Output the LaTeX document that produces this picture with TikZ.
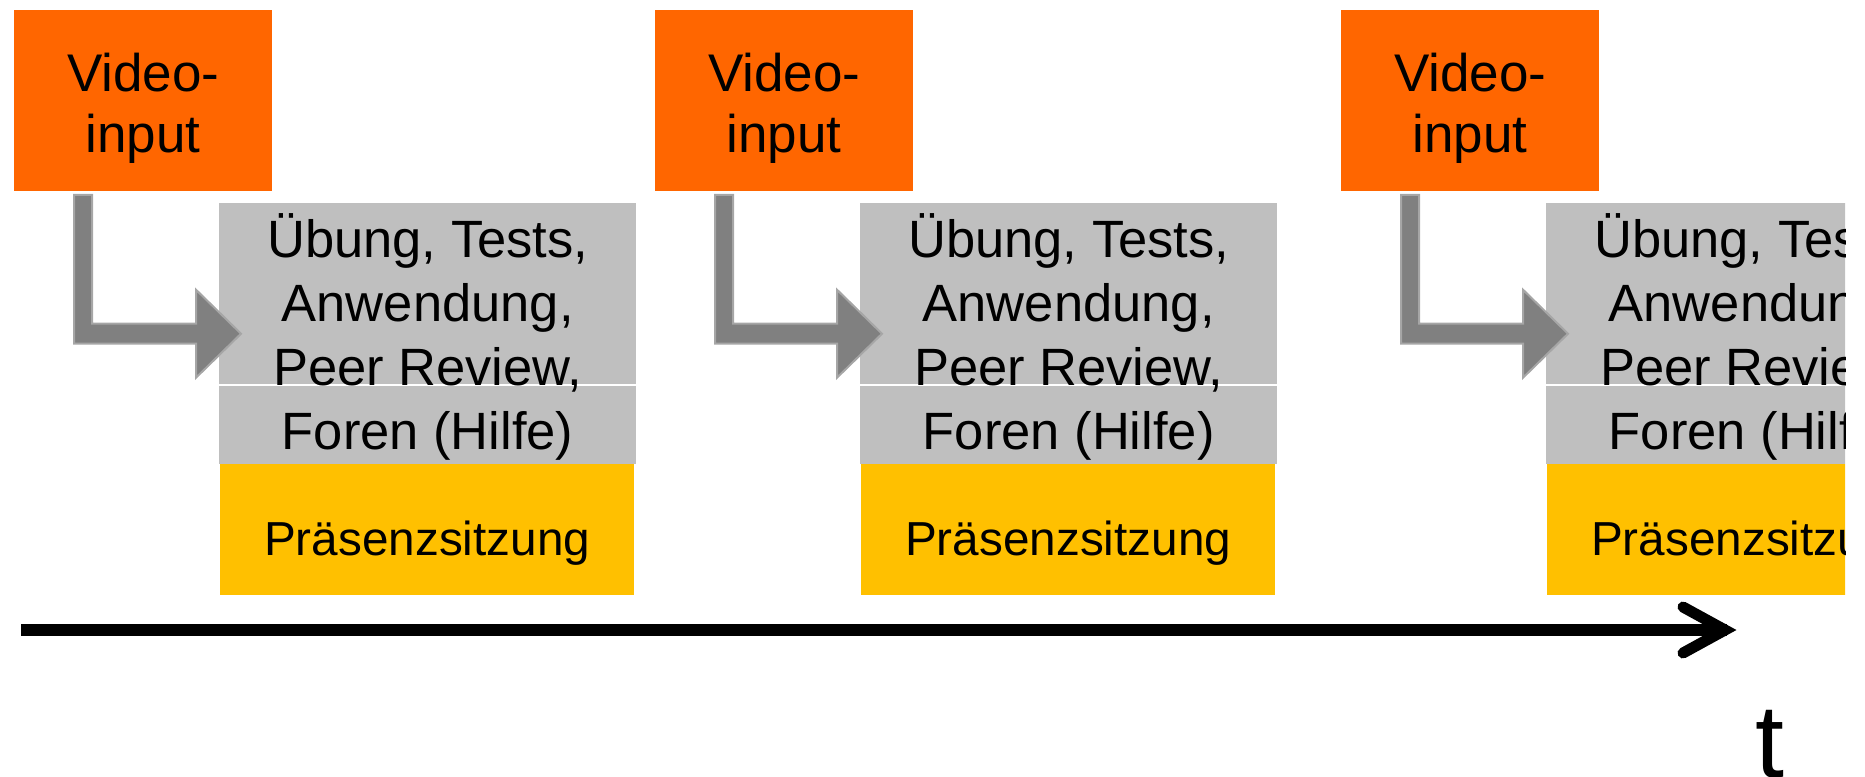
\documentclass[tikz,border=0pt]{standalone}
\usepackage{fontspec}
\setmainfont{Liberation Sans}
\usetikzlibrary{calc}
\definecolor{vorange}{HTML}{FF6600}
\definecolor{vgray}{HTML}{BFBFBF}
\definecolor{vyellow}{HTML}{FFC000}
\definecolor{agray}{HTML}{808080}
\definecolor{agrayline}{HTML}{A6A6A6}
\tikzset{
  videobox/.style={fill=vorange, minimum width=258pt, minimum height=181pt, inner sep=0pt, anchor=north west},
  videotext/.style={align=center, inner sep=0pt, font=\fontsize{53}{61}\selectfont},
  taskbox/.style={fill=vgray, minimum width=417pt, minimum height=261pt, inner sep=0pt, anchor=north west},
  tasktext/.style={align=center, inner sep=0pt, font=\fontsize{52.5}{64}\selectfont},
  meetbox/.style={fill=vyellow, minimum width=414pt, minimum height=131pt, inner sep=0pt, anchor=north west},
  meettext/.style={inner sep=0pt, anchor=base, font=\fontsize{47.7}{57}\selectfont},
  divider/.style={white, line width=1.5pt},
  flowarrow/.style={fill=agray, draw=agrayline, line width=2pt, line join=miter},
  timeline/.style={line width=12pt},
  timehead/.style={line width=11pt, line cap=round, line join=miter},
}
\begin{document}
\begin{tikzpicture}[x=1pt,y=-1pt]
\useasboundingbox (0,0) rectangle (1865,776);
\begin{scope}
\clip (0,0) rectangle (1845,776);
\foreach \i/\X in {1/219, 2/860, 3/1546} {
  \node[videobox] (v\i) at (\X-205, 9.5) {};
  \node[videotext] (vt\i) at ($(v\i.center)+(0,8)$) {Video-\\input};
  \node[taskbox] (g\i) at (\X, 203) {};
  \draw[divider] ($(g\i.north west)+(0,182)$) -- ($(g\i.north east)+(0,182)$);
  \node[tasktext] (gt\i) at ($(g\i.center)+(0,3)$) {Übung, Tests,\\Anwendung,\\Peer Review,\\Foren (Hilfe)};
  \node[meetbox] (m\i) at (\X+1, 464) {};
  \node[meettext] (mt\i) at ($(m\i.north)+(0,91)$) {Präsenzsitzung};
  \coordinate (tip\i) at ($(g\i.west)+(22,0)$);
  \filldraw[flowarrow] ($(v\i.south west)+(60,4)$) coordinate (s\i) -- ++(18,0)
     |- ($(tip\i)+(-45,-10)$) -- ++(0,-34) -- (tip\i) -- ++(-45,44) -- ++(0,-34) -| (s\i) -- cycle;
}
\coordinate (tstart) at (21,630);
\coordinate (tend) at (1737,630);
\draw[timeline] (tstart) -- ($(tend)+(-10,0)$);
\draw[timehead] ($(tend)+(-54,-23)$) -- ($(tend)+(-12,0)$) -- ($(tend)+(-54,23)$);
\node[inner sep=0pt, anchor=base, font=\fontsize{104}{104}\selectfont] (tlabel) at (1770,777) {t};
\end{scope}
\end{tikzpicture}
\end{document}
